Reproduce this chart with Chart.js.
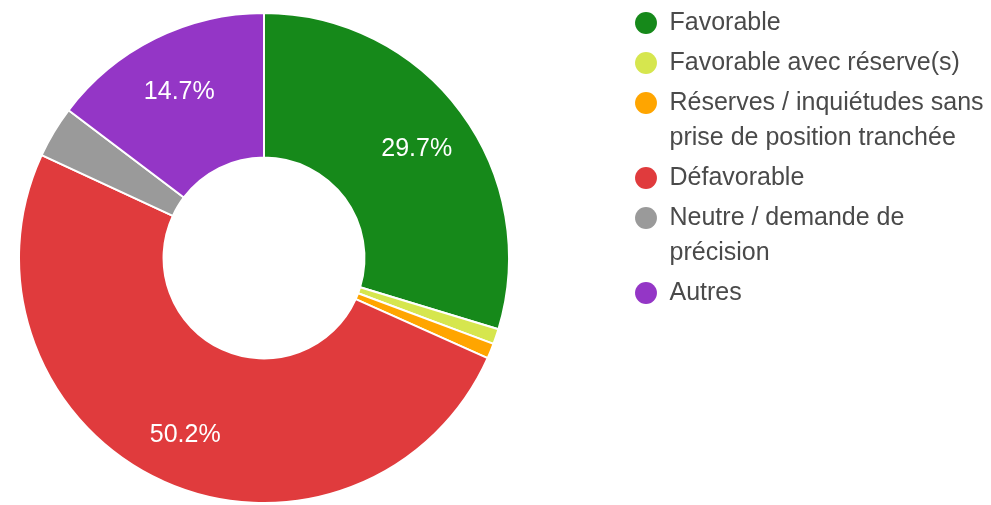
<!DOCTYPE html>
<html>
<head>
<meta charset="utf-8">
<script src="https://cdn.jsdelivr.net/npm/chart.js@4"></script>
<style>
  html, body { margin: 0; padding: 0; background: #ffffff; }
  #wrap { width: 991px; height: 505px; position: relative; }
</style>
</head>
<body>
<div id="wrap"><canvas id="avis_chart"></canvas></div>
<script>
// categories (multi-line where the legend wraps)
const categories = [
  ['Favorable'],
  ['Favorable avec réserve(s)'],
  ['Réserves / inquiétudes sans', 'prise de position tranchée'],
  ['Défavorable'],
  ['Neutre / demande de', 'précision'],
  ['Autres']
];
// share of answers, in percent
const shares = [29.7, 1.0, 1.0, 50.2, 3.4, 14.7];
const colors = ['#16891a', '#d6e64e', '#ffa500', '#e03b3d', '#9a9a9a', '#9436c6'];

const font_family = '"Liberation Sans", Arial, sans-serif';

// legend box is moved to the right side, away from the ring
const legendPlace = {
  id: 'legendPlace',
  afterLayout(chart) {
    const lg = chart.legend;
    lg.left = 630;
    lg.right = 991;
    lg.top = 5.5;
    lg.bottom = 505;
  }
};

// percentage text inside the bigger slices
const pctLabels = {
  id: 'pctLabels',
  afterDatasetsDraw(chart) {
    const ctx = chart.ctx;
    const meta = chart.getDatasetMeta(0);
    const total = shares.reduce((a, b) => a + b, 0);
    ctx.save();
    ctx.font = '25px ' + font_family;
    ctx.fillStyle = '#ffffff';
    ctx.textAlign = 'center';
    ctx.textBaseline = 'middle';
    meta.data.forEach((arc, i) => {
      const pct = shares[i] / total * 100;
      if (pct < 5) return;
      const p = arc.getProps(['x', 'y', 'startAngle', 'endAngle', 'innerRadius', 'outerRadius'], true);
      const mid = (p.startAngle + p.endAngle) / 2;
      const r = p.innerRadius + (p.outerRadius - p.innerRadius) * 0.62;
      ctx.fillText(pct.toFixed(1) + '%', p.x + Math.cos(mid) * r, p.y + Math.sin(mid) * r + 4);
    });
    ctx.restore();
  }
};

let ctx = document.getElementById('avis_chart').getContext('2d');
let avis_chart = new Chart(ctx, {
  type: 'doughnut',
  data: {
    labels: categories,
    datasets: [{
      data: shares,
      backgroundColor: colors,
      borderColor: '#ffffff',
      borderWidth: 2
    }]
  },
  options: {
    responsive: true,
    maintainAspectRatio: false,
    animation: false,
    cutout: '41%',
    layout: {
      padding: { left: 18, top: 11, right: 181, bottom: 0 }
    },
    plugins: {
      tooltip: { enabled: false },
      legend: {
        position: 'right',
        align: 'start',
        maxWidth: 300,
        labels: {
          usePointStyle: true,
          pointStyle: 'circle',
          boxWidth: 22,
          boxHeight: 15.5,
          padding: 5,
          color: '#4a4a4a',
          font: { family: font_family, size: 25, lineHeight: 1.4 },
          generateLabels(chart) {
            const items = Chart.overrides.doughnut.plugins.legend.labels.generateLabels(chart);
            return items.map(it => Object.assign(it, { lineWidth: 0, strokeStyle: it.fillStyle }));
          }
        }
      }
    }
  },
  plugins: [legendPlace, pctLabels]
});
</script>
</body>
</html>
